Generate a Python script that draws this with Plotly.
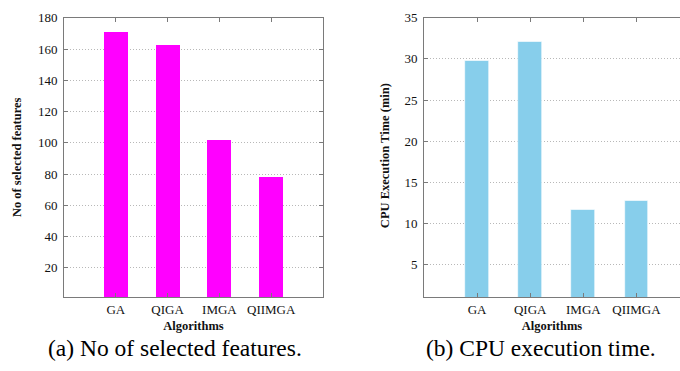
import plotly.graph_objects as go

algorithms = ["GA", "QIGA", "IMGA", "QIIMGA"]
positions = [1, 2, 3, 4]
selected_features = [171, 163, 102, 78]
cpu_time_min = [29.8, 32.1, 11.7, 12.8]
left_yticks = [20, 40, 60, 80, 100, 120, 140, 160, 180]
right_yticks = [5, 10, 15, 20, 25, 30, 35]

W, H = 680, 371
serif = "Liberation Serif"
border = "#7a7a7a"
gridc = "#b8b8b8"

fig = go.Figure()
fig.add_trace(go.Bar(x=positions, y=selected_features, width=0.46,
                     marker=dict(color="#ff00ff", line=dict(width=0)),
                     xaxis="x", yaxis="y", showlegend=False))
fig.add_trace(go.Bar(x=positions, y=cpu_time_min, width=0.45,
                     marker=dict(color="#87ceeb", line=dict(width=0.6, color="#ffffff")),
                     xaxis="x2", yaxis="y2", showlegend=False))

ydom = [75 / H, (H - 11) / H]
common_x = dict(tickvals=positions, ticktext=algorithms, ticks="inside", ticklen=4,
                tickcolor=border, showline=True, linecolor=border, linewidth=1,
                mirror="ticks", showgrid=False, zeroline=False,
                tickfont=dict(family=serif, size=13, color="#111"),
                title=dict(font=dict(family=serif, size=12.5, color="#111"), standoff=5))
common_y = dict(ticks="inside", ticklen=4, tickcolor=border, showline=True,
                linecolor=border, linewidth=1, showgrid=True, gridcolor=gridc,
                griddash="1px,2px", gridwidth=1, zeroline=False,
                tickfont=dict(family=serif, size=13, color="#111"),
                ticklabelstandoff=3)

fig.update_layout(
    width=W, height=H, margin=dict(l=0, r=0, t=0, b=0),
    paper_bgcolor="white", plot_bgcolor="white", bargap=0,
    font=dict(family=serif),
    xaxis=dict(common_x, domain=[64 / W, 323 / W], range=[0, 5.0], anchor="y",
               title_text="<b>Algorithms</b>"),
    yaxis=dict(common_y, domain=ydom, range=[1, 180], tickvals=left_yticks,
               anchor="x", mirror="ticks"),
    xaxis2=dict(common_x, domain=[424 / W, 1.0], range=[0, 4.82], anchor="y2",
                title_text="<b>Algorithms</b>"),
    yaxis2=dict(common_y, domain=ydom, range=[1, 35], tickvals=right_yticks,
                anchor="x2", mirror=False),
    annotations=[
        dict(text="<b>No of selected features</b>", x=17 / W, y=(H - 153) / H,
             xref="paper", yref="paper", xanchor="center", yanchor="middle",
             textangle=-90, showarrow=False,
             font=dict(family=serif, size=12.5, color="#111")),
        dict(text="<b>CPU Execution Time (min)</b>", x=385 / W, y=(H - 152) / H,
             xref="paper", yref="paper", xanchor="center", yanchor="middle",
             textangle=-90, showarrow=False,
             font=dict(family=serif, size=12.5, color="#111")),
        dict(text="(a) No of selected features.", x=175 / W, y=(H - 348) / H,
             xref="paper", yref="paper", xanchor="center", yanchor="middle",
             showarrow=False, font=dict(family=serif, size=23.5, color="#000")),
        dict(text="(b) CPU execution time.", x=541 / W, y=(H - 348) / H,
             xref="paper", yref="paper", xanchor="center", yanchor="middle",
             showarrow=False, font=dict(family=serif, size=23.5, color="#000")),
    ],
)

fig.write_html("out.html")
